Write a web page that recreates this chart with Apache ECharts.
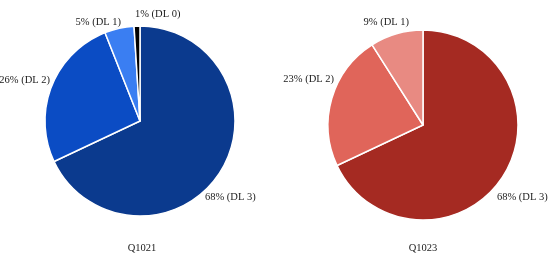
<!DOCTYPE html>
<html>
<head>
<meta charset="utf-8">
<script src="https://cdn.jsdelivr.net/npm/echarts@6/dist/echarts.min.js"></script>
<style>
  html, body { margin: 0; padding: 0; background: #fff; }
  #chart { width: 550px; height: 257px; }
</style>
</head>
<body>
<div id="chart"></div>
<script>
// 数据
const categories = ['DL 3', 'DL 2', 'DL 1', 'DL 0'];
const q1021Values = [68, 26, 5, 1];
const q1023Values = [68, 23, 9];
const chartTitles = ['Q1021', 'Q1023'];

const blueColors = ['#0b3a8e', '#0b4cc4', '#3a7ef2', '#000000'];
const redColors = ['#a52a22', '#e0655a', '#e88a82'];

// 标签位置 (x, y, 对齐方式)，模仿原图的摆放
const labelAnchors = [
  [[205, 197, 'left'], [50, 80, 'right'], [121, 22, 'right'], [135, 14, 'left']],
  [[497, 197, 'left'], [334, 79, 'right'], [409, 22, 'right']]
];

const font = '"Liberation Serif", "DejaVu Serif", serif';

function buildData(values, colors) {
  return values.map((v, i) => ({
    name: categories[i],
    value: v,
    itemStyle: { color: colors[i] }
  }));
}

function pieSeries(center, values, colors) {
  return {
    type: 'pie',
    center: center,
    radius: 95,
    startAngle: 90,
    clockwise: true,
    avoidLabelOverlap: false,
    minShowLabelAngle: 0,
    animation: false,
    itemStyle: { borderColor: '#fff', borderWidth: 1.5 },
    label: {
      show: true,
      position: 'outside',
      formatter: '{c}% ({b})',
      color: '#1a1a1a',
      fontFamily: font,
      fontSize: 10.5
    },
    labelLine: { show: false },
    labelLayout: function (params) {
      const a = labelAnchors[params.seriesIndex][params.dataIndex];
      return { x: a[0], y: a[1], align: a[2], verticalAlign: 'middle' };
    },
    data: buildData(values, colors)
  };
}

const titleStyle = { fontFamily: font, fontSize: 10.5, fontWeight: 'normal', color: '#1a1a1a' };

const chart = echarts.init(document.getElementById('chart'));
chart.setOption({
  title: [
    { text: chartTitles[0], left: 137, top: 238, textAlign: 'center', textStyle: titleStyle },
    { text: chartTitles[1], left: 418, top: 238, textAlign: 'center', textStyle: titleStyle }
  ],
  series: [
    pieSeries([140, 121], q1021Values, blueColors),
    pieSeries([423, 125], q1023Values, redColors)
  ]
});
</script>
</body>
</html>
